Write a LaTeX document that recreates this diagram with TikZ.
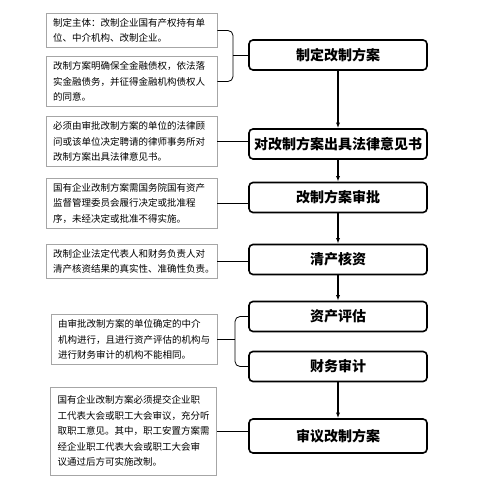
\documentclass[tikz,border=0pt]{standalone}
\usepackage{fontspec}
\newfontfamily\cjk{Noto Sans CJK SC}
\usetikzlibrary{arrows.meta,positioning}

\begin{document}
\begin{tikzpicture}[
  x=1pt,y=-1pt,
  every node/.style={font=\cjk},
  notebox/.style={draw=gray!70,line width=0.7pt,text width=157pt,inner xsep=7pt,inner ysep=5pt,align=left,font=\cjk\fontsize{9.5}{15.5}\selectfont},
  stagebox/.style={draw,line width=1.6pt,rounded corners=4pt,minimum width=178pt,minimum height=30pt,font=\cjk\bfseries\fontsize{14}{16}\selectfont},
  link/.style={line width=0.8pt},
  arrow/.style={-{Latex[length=2mm]},line width=1.2pt}
]
\useasboundingbox (0,0) rectangle (476,486);
\node[notebox] (note1) at (131.5,30.5) {制定主体：改制企业国有产权持有单\\位、中介机构、改制企业。};
\node[notebox] (note2) at (131.5,81.5) {改制方案明确保全金融债权，依法落\\实金融债务，并征得金融机构债权人\\的同意。};
\node[notebox] (note3) at (131.5,141.5) {必须由审批改制方案的单位的法律顾\\问或该单位决定聘请的律师事务所对\\改制方案出具法律意见书。};
\node[notebox] (note4) at (131.5,203) {国有企业改制方案需国务院国有资产\\监督管理委员会履行决定或批准程\\序，未经决定或批准不得实施。};
\node[notebox] (note5) at (131.5,261.5) {改制企业法定代表人和财务负责人对\\清产核资结果的真实性、准确性负责。};
\node[notebox,text width=152pt] (note6) at (134,339.5) {由审批改制方案的单位确定的中介\\机构进行，且进行资产评估的机构与\\进行财务审计的机构不能相同。};
\node[notebox,text width=152pt,minimum height=88pt] (note7) at (133.5,431) {国有企业改制方案必须提交企业职\\工代表大会或职工大会审议，充分听\\取职工意见。其中，职工安置方案需\\经企业职工代表大会或职工大会审\\议通过后方可实施改制。};

\node[stagebox] (plan) at (338,55) {制定改制方案};
\node[stagebox] (opinion) at (338,144) {对改制方案出具法律意见书};
\node[stagebox] (approve) at (338,197.5) {改制方案审批};
\node[stagebox] (check) at (338,259.5) {清产核资};
\node[stagebox] (assess) at (338,316.5) {资产评估};
\node[stagebox] (audit) at (338,366.5) {财务审计};
\node[stagebox,minimum height=34pt] (review) at (338,436) {审议改制方案};

% steps down the right column
\draw[arrow] (plan) -- (opinion);
\draw[arrow] (opinion) -- (approve);
\draw[arrow] (approve) -- (check);
\draw[arrow] (check) -- (assess);
\draw[arrow] (audit) -- (review);

% notes to steps
\coordinate (brc1) at (233,55);
\draw[link,rounded corners=5pt] (note1.east) -| (brc1) |- (note2.east);
\draw[link] (brc1) -- (plan.west);
\draw[link] (note3.east) -- (note3.east -| opinion.west);
\draw[link] (note4.east) -- (note4.east -| approve.west);
\draw[link] (note5.east) -- (note5.east -| check.west);
\coordinate (brc2) at (235,339.5);
\draw[link,rounded corners=5pt] (assess.west) -| (brc2) |- (audit.west);
\draw[link] (note6.east) -- (brc2);
\draw[link] (note7.east) -- (note7.east -| review.west);
\end{tikzpicture}
\end{document}
